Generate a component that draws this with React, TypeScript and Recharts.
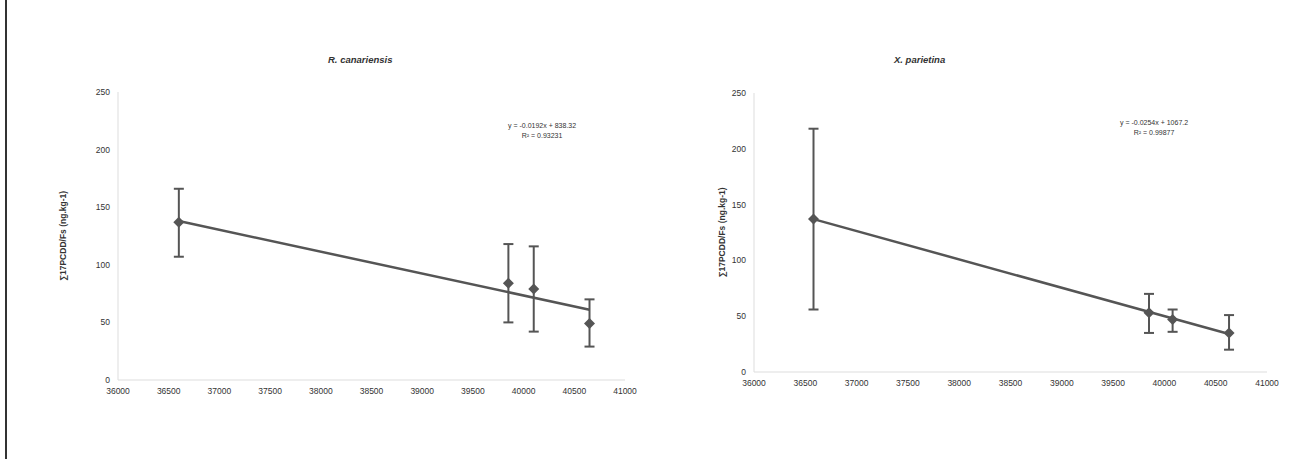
import React from "react";
import { ComposedChart, Scatter, Line, XAxis, YAxis, ErrorBar } from "recharts";

const rcX = [36600, 39850, 40100, 40650];
const rcY = [137, 84, 79, 49];
const rcLow = [107, 50, 42, 29];
const rcHigh = [166, 118, 116, 70];
const rcTrendX = [36600, 40650];
const rcTrendY = [138, 61];

const xpX = [36580, 39850, 40080, 40630];
const xpY = [137, 53, 47, 35];
const xpLow = [56, 35, 36, 20];
const xpHigh = [218, 70, 56, 51];
const xpTrendX = [36580, 40630];
const xpTrendY = [137, 34];

const xTicks = [36000, 36500, 37000, 37500, 38000, 38500, 39000, 39500, 40000, 40500, 41000];
const yTicks = [0, 50, 100, 150, 200, 250];

const build = (xs: number[], ys: number[], lo: number[], hi: number[]) =>
  xs.map((x, i) => ({ x, y: ys[i], err: [ys[i] - lo[i], hi[i] - ys[i]] }));
const trend = (xs: number[], ys: number[]) => xs.map((x, i) => ({ x, y: ys[i] }));

const C = "#555";
const FONT = "Liberation Sans, Arial";
const tick = { fontSize: 8.5, fill: "#333", fontFamily: FONT };

const Diamond = (p: any) => {
  const { cx, cy } = p;
  const s = 5.5;
  return <polygon points={`${cx},${cy - s} ${cx + s},${cy} ${cx},${cy + s} ${cx - s},${cy}`} fill={C} />;
};

function Panel(props: any) {
  const { left, margin, title, titleX, eq, r2, eqX, eqY, data, tr, labelOffset } = props;
  return (
    <div style={{ position: "absolute", left, top: 0, width: 640, height: 459 }}>
      <div style={{ position: "absolute", left: titleX, top: 54, fontSize: 9.5, fontWeight: "bold", fontStyle: "italic", fontFamily: FONT, color: "#333" }}>{title}</div>
      <div style={{ position: "absolute", left: eqX, top: eqY, fontSize: 7, fontFamily: FONT, color: "#333", textAlign: "center", lineHeight: "10px" }}>
        {eq}<br />{r2}
      </div>
      <ComposedChart width={640} height={459} margin={margin}>
        <XAxis type="number" dataKey="x" domain={[36000, 41000]} ticks={xTicks} tick={tick} stroke="#ddd" tickLine={false} height={30} />
        <YAxis type="number" dataKey="y" domain={[0, 250]} ticks={yTicks} tick={tick} stroke="#ddd" tickLine={false} width={60}
          label={{ value: "∑17PCDD/Fs (ng.kg-1)", angle: -90, position: "insideLeft", offset: labelOffset, fill: "#333", style: { fontSize: 8.5, fontWeight: "bold", fill: "#333", fontFamily: FONT, textAnchor: "middle" } }} />
        <Line data={tr} dataKey="y" stroke={C} strokeWidth={2.5} dot={false} isAnimationActive={false} />
        <Scatter data={data} dataKey="y" fill={C} shape={<Diamond />} isAnimationActive={false}>
          <ErrorBar dataKey="err" direction="y" stroke={C} strokeWidth={2} width={5} />
        </Scatter>
      </ComposedChart>
    </div>
  );
}

export default function App() {
  return (
    <div style={{ position: "absolute", left: 0, top: 0, width: 1311, height: 459, background: "#fff" }}>
      <div style={{ position: "absolute", left: 5, top: 0, width: 2, height: 459, background: "#333" }} />
      <Panel left={0} margin={{ top: 92, right: 15, bottom: 49, left: 58 }} title="R. canariensis" titleX={328}
        eq="y = -0.0192x + 838.32" r2="R² = 0.93231" eqX={508} eqY={121} labelOffset={5}
        data={build(rcX, rcY, rcLow, rcHigh)} tr={trend(rcTrendX, rcTrendY)} />
      <Panel left={660} margin={{ top: 93, right: 33, bottom: 57, left: 34 }} title="X. parietina" titleX={234}
        eq="y = -0.0254x + 1067.2" r2="R² = 0.99877" eqX={460} eqY={118} labelOffset={28}
        data={build(xpX, xpY, xpLow, xpHigh)} tr={trend(xpTrendX, xpTrendY)} />
    </div>
  );
}
